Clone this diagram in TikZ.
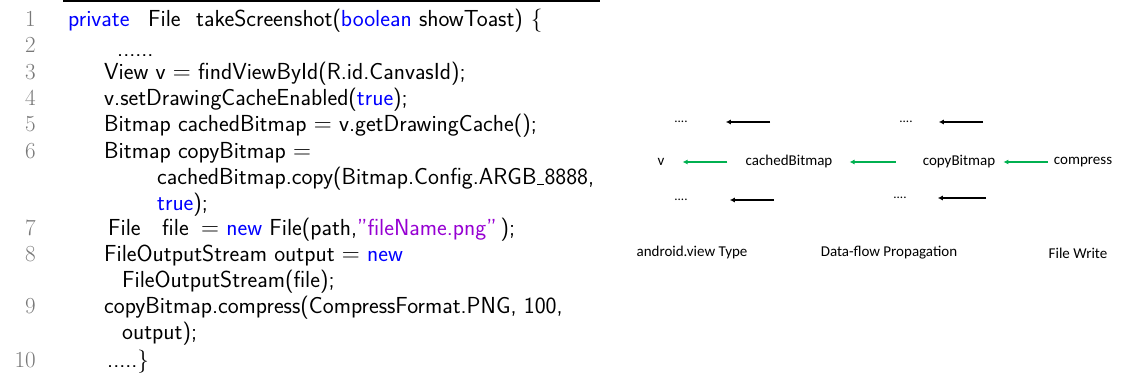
\documentclass[tikz,border=0pt]{standalone}
\usepackage{fontspec}
\usetikzlibrary{arrows.meta}
\newfontfamily\diagfont{Carlito}
\definecolor{kwblue}{RGB}{0,0,255}
\definecolor{strmauve}{RGB}{150,0,210}
\definecolor{lnogray}{RGB}{120,120,120}
\definecolor{flowgreen}{RGB}{0,176,80}
\newcommand\kw[1]{\textcolor{kwblue}{#1}}
\newcommand\strlit[1]{\textcolor{strmauve}{#1}}
\newcommand\lowbar{\kern0.5pt\rule[-1.2pt]{7pt}{0.9pt}\kern0.5pt}
\begin{document}
\begin{tikzpicture}[x=1pt,y=-1pt,
  code/.style={anchor=base west,inner sep=0pt,font=\sffamily\fontsize{23.2}{23.2}\selectfont},
  lno/.style={anchor=base east,inner sep=0pt,text=lnogray,font=\rmfamily\fontsize{23}{23}\selectfont},
  lbl/.style={inner sep=0pt,font=\diagfont\fontsize{15}{15}\selectfont},
  dotsnode/.style={inner sep=0pt,font=\diagfont\fontsize{13}{13}\selectfont},
  blk/.style={draw=black,line width=2pt,-{Latex[length=5pt,width=5pt]}},
  grn/.style={draw=flowgreen,line width=1.8pt,-{Latex[length=5pt,width=5pt]}}]
\useasboundingbox (0,0) rectangle (1122,377);

% rule above the listing
\draw[line width=1.5pt] (63,1) -- (600,1);

% line numbers
\node[lno] (n1)  at (36,27)  {1};
\node[lno] (n2)  at (36,53)  {2};
\node[lno] (n3)  at (36,80)  {3};
\node[lno] (n4)  at (36,106) {4};
\node[lno] (n5)  at (36,132) {5};
\node[lno] (n6)  at (36,158) {6};
\node[lno] (n7)  at (36,235) {7};
\node[lno] (n8)  at (36,261) {8};
\node[lno] (n9)  at (36,313) {9};
\node[lno] (n10) at (36,367) {10};

% source lines
\node[code] (c1a) at (68,27)  {\kw{private}};
\node[code] (c1b) at (148,27) {File};
\node[code] (c1c) at (196,27) {takeScreenshot(\kw{boolean} showToast)\hspace{8pt}\{};
\node[code] (c2)  at (117,57) {......};
\node[code] (c3)  at (104,80) {View v $=$ findViewById(R.id.CanvasId);};
\node[code] (c4)  at (104,106) {v.setDrawingCacheEnabled(\kw{true});};
\node[code] (c5)  at (104,132) {Bitmap cachedBitmap $=$ v.getDrawingCache();};
\node[code] (c6)  at (104,158) {Bitmap copyBitmap $=$};
\node[code] (c6b) at (157,184) {cachedBitmap.copy(Bitmap.Config.ARGB\lowbar 8888,};
\node[code] (c6c) at (157,210) {\kw{true});};
\node[code] (c7a) at (108,235) {File};
\node[code] (c7b) at (162,235) {file};
\node[code] (c7c) at (201,235) {$=$ \kw{new} File(path,\strlit{''fileName.png''}\hspace{4pt});};
\node[code] (c8)  at (104,261) {FileOutputStream output $=$ \kw{new}};
\node[code] (c8b) at (122,287) {FileOutputStream(file);};
\node[code] (c9)  at (104,313) {copyBitmap.compress(CompressFormat.PNG, 100,};
\node[code] (c9b) at (122,339) {output);};
\node[code] (c10) at (107,367) {.....\}};

% data-flow chain
\node[lbl] (v)      at (661,162)  {v};
\node[lbl] (cached) at (789,162)  {cachedBitmap};
\node[lbl] (copy)   at (959,162)  {copyBitmap};
\node[lbl] (comp)   at (1083,162) {compress};

\node[dotsnode] (d1) at (681,122) {....};
\node[dotsnode] (d2) at (906,122) {....};
\node[dotsnode] (d3) at (681,200) {....};
\node[dotsnode] (d4) at (900,198) {....};

\coordinate (s1) at (770,122);
\coordinate (s2) at (983,122);
\coordinate (s3) at (774,200);
\coordinate (s4) at (986,198);

\draw[blk,shorten >=38pt] (s1) -- (d1.east);
\draw[blk,shorten >=26pt] (s2) -- (d2.east);
\draw[blk,shorten >=42pt] (s3) -- (d3.east);
\draw[blk,shorten >=31pt] (s4) -- (d4.east);

\draw[grn,shorten <=18pt,shorten >=18pt] (cached.west) -- (v.east);
\draw[grn,shorten <=27pt,shorten >=17pt] (copy.west) -- (cached.east);
\draw[grn,shorten <=6pt,shorten >=8pt] (comp.west) -- (copy.east);

% column captions
\node[lbl] (cap1) at (692,253)  {android.view Type};
\node[lbl] (cap2) at (889,253)  {Data-flow Propagation};
\node[lbl] (cap3) at (1078,253) {File Write};
\end{tikzpicture}
\end{document}
